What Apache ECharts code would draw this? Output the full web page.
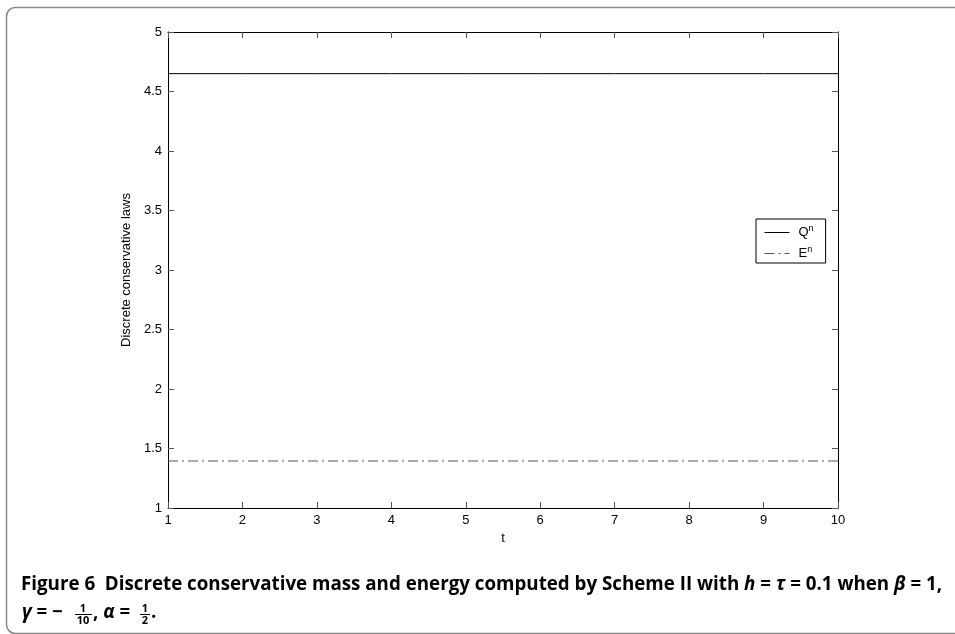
<!DOCTYPE html>
<html><head><meta charset="utf-8">
<script src="https://cdn.jsdelivr.net/npm/echarts@6/dist/echarts.min.js"></script>
<style>html,body{margin:0;padding:0;background:#fff}#c{width:955px;height:634px}</style>
</head><body><div id="c"></div>
<script>
const tValues = [1, 2, 3, 4, 5, 6, 7, 8, 9, 10];
const massQ = [4.65, 4.65, 4.65, 4.65, 4.65, 4.65, 4.65, 4.65, 4.65, 4.65];
const energyE = [1.395, 1.395, 1.395, 1.395, 1.395, 1.395, 1.395, 1.395, 1.395, 1.395];
const yTicks = ['1', '1.5', '2', '2.5', '3', '3.5', '4', '4.5', '5'];
const seriesNames = ['Q', 'E'];

const chart = echarts.init(document.getElementById('c'));
const font = 'Liberation Sans, Arial, sans-serif';
const capFont = '"Open Sans", sans-serif';
const CF = 18.75;
const axCommon = {
  axisLine: {show: true, lineStyle: {color: '#000', width: 1}},
  axisTick: {show: true, inside: true, length: 6, lineStyle: {color: '#555'}},
  splitLine: {show: false}
};
const pairs = a => tValues.map((t, i) => [t, a[i]]);
const capRich = {
  b: {fontFamily: capFont, fontSize: CF, fontWeight: 'bold', fill: '#000'},
  i: {fontFamily: capFont, fontSize: CF, fontWeight: 'bold', fontStyle: 'italic', fill: '#000'}
};
const small = (txt, x, y) => ({type: 'text', silent: true, z: 10, style: {
  text: txt, x: x, y: y, textAlign: 'center', verticalAlign: 'middle',
  fontFamily: capFont, fontSize: 11, fontWeight: 'bold', fill: '#000'}});
chart.setOption({
  animation: false,
  grid: {left: 168, right: 117, top: 32, bottom: 126},
  xAxis: [
    Object.assign({type: 'value', min: 1, max: 10, interval: 1, position: 'bottom',
      name: 't', nameLocation: 'middle', nameGap: 22,
      nameTextStyle: {fontFamily: font, fontSize: 13, color: '#000'},
      axisLabel: {fontFamily: font, fontSize: 13, color: '#000', margin: 6}}, axCommon),
    Object.assign({type: 'value', min: 1, max: 10, interval: 1, position: 'top',
      axisLabel: {show: false}}, axCommon)
  ],
  yAxis: [
    Object.assign({type: 'value', min: 1, max: 5, interval: 0.5, position: 'left',
      name: 'Discrete conservative laws', nameLocation: 'middle', nameGap: 34,
      nameTextStyle: {fontFamily: font, fontSize: 13, color: '#000'},
      axisLabel: {fontFamily: font, fontSize: 13, color: '#000', margin: 6,
        formatter: v => yTicks[Math.round((v - 1) / 0.5)]}}, axCommon),
    Object.assign({type: 'value', min: 1, max: 5, interval: 0.5, position: 'right',
      axisLabel: {show: false}}, axCommon)
  ],
  legend: {
    orient: 'vertical', left: 756, top: 219,
    padding: [5, 12, 3, 8], itemGap: 6, itemWidth: 25, itemHeight: 14,
    borderColor: '#000', borderWidth: 1, backgroundColor: '#fff',
    data: seriesNames,
    itemStyle: {color: 'rgba(0,0,0,0)', borderColor: 'rgba(0,0,0,0)', borderWidth: 0},
    lineStyle: {width: 1},
    formatter: n => '{b|' + n + '}{s|n}',
    textStyle: {rich: {
      b: {fontFamily: font, fontSize: 13, color: '#000', padding: [0, 0, 0, 4]},
      s: {fontFamily: font, fontSize: 9, color: '#000', verticalAlign: 'top', padding: [0, 0, 8, 0]}
    }}
  },
  series: [
    {name: seriesNames[0], type: 'line', data: pairs(massQ), symbol: 'none',
      itemStyle: {color: '#000'}, lineStyle: {color: '#000', width: 1}},
    {name: seriesNames[1], type: 'line', data: pairs(energyE), symbol: 'none',
      itemStyle: {color: '#555'}, lineStyle: {color: '#555', width: 1, type: [10, 4, 2, 4]}}
  ],
  graphic: [
    {type: 'rect', shape: {x: 6.5, y: 7.5, width: 990, height: 626, r: 9}, silent: true,
      style: {fill: 'none', stroke: '#888', lineWidth: 1.5}},
    {type: 'text', left: 21, top: 575, silent: true, style: {
      text: '{b|Figure 6  Discrete conservative mass and energy computed by Scheme II with }{i|h}{b| = }{i|τ}{b| = 0.1 when }{i|β}{b| = 1,}',
      rich: capRich}},
    {type: 'text', left: 22, top: 603, silent: true, style: {text: '{i|γ}{b| = −}', rich: capRich}},
    small('1', 83, 608.5),
    {type: 'line', shape: {x1: 75, y1: 614.5, x2: 92, y2: 614.5}, silent: true, style: {stroke: '#000', lineWidth: 1}},
    small('10', 83, 620.5),
    {type: 'text', left: 93, top: 603, silent: true, style: {text: '{b|, }{i|α}{b| = }', rich: capRich}},
    small('1', 145, 608.5),
    {type: 'line', shape: {x1: 140, y1: 614.5, x2: 150, y2: 614.5}, silent: true, style: {stroke: '#000', lineWidth: 1}},
    small('2', 145, 620.5),
    {type: 'text', left: 151, top: 603, silent: true, style: {text: '.', fontFamily: capFont, fontSize: CF, fontWeight: 'bold', fill: '#000'}}
  ]
});
</script></body></html>
